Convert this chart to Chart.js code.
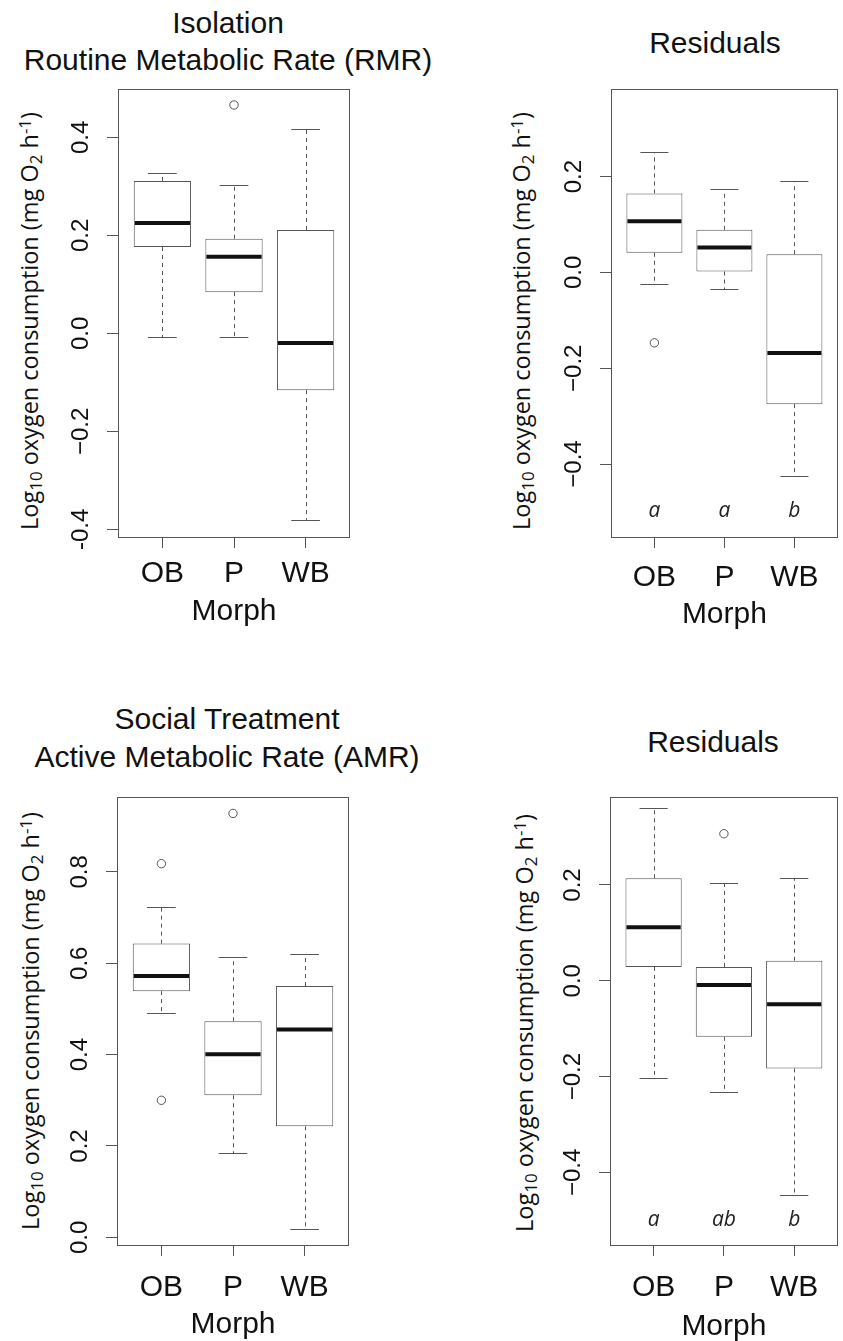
<!DOCTYPE html>
<html><head><meta charset="utf-8">
<script src="https://cdn.jsdelivr.net/npm/chart.js@4.4.1/dist/chart.umd.min.js"></script>
<style>
html,body{margin:0;padding:0;background:#fff}
body{width:843px;height:1341px;position:relative;overflow:hidden;font-family:"Liberation Sans",Arial,sans-serif;color:#111}
canvas{position:absolute}
.t{position:absolute;font-size:30px;line-height:1;white-space:nowrap;transform:translate(-50%,-50%)}
.yl{position:absolute;font-family:"Open Sans",sans-serif;font-size:23.5px;line-height:1;white-space:nowrap;transform:translate(-50%,-50%) rotate(-90deg)}
.yl sub,.yl sup{font-size:0.72em;line-height:0}
.yl sub{vertical-align:-0.25em}
.yl sup{vertical-align:0.45em}
</style></head><body>

<div class="t" style="left:228px;top:23px">Isolation</div>
<div class="t" style="left:228px;top:60px">Routine Metabolic Rate (RMR)</div>
<div class="t" style="left:715px;top:43px">Residuals</div>
<div class="t" style="left:227px;top:719px">Social Treatment</div>
<div class="t" style="left:227px;top:757px">Active Metabolic Rate (AMR)</div>
<div class="t" style="left:713px;top:742px">Residuals</div>

<div class="yl" style="left:30px;top:321px">Log<sub>10</sub> oxygen consumption (mg O<sub>2</sub> h<sup>-1</sup>)</div>
<div class="yl" style="left:522px;top:321px">Log<sub>10</sub> oxygen consumption (mg O<sub>2</sub> h<sup>-1</sup>)</div>
<div class="yl" style="left:31px;top:1021px">Log<sub>10</sub> oxygen consumption (mg O<sub>2</sub> h<sup>-1</sup>)</div>
<div class="yl" style="left:525px;top:1023px">Log<sub>10</sub> oxygen consumption (mg O<sub>2</sub> h<sup>-1</sup>)</div>

<canvas id="c1" width="421" height="700" style="left:0;top:0"></canvas>
<canvas id="c2" width="422" height="700" style="left:421px;top:0"></canvas>
<canvas id="c3" width="421" height="700" style="left:0;top:680px"></canvas>
<canvas id="c4" width="422" height="700" style="left:421px;top:680px"></canvas>

<script>
// ---------- data ----------
const morphs = ['OB', 'P', 'WB'];

// Isolation - Routine Metabolic Rate (RMR)
const rmrMin = [-0.008, -0.008, -0.382];
const rmrQ1  = [0.176, 0.084, -0.116];
const rmrMed = [0.225, 0.156, -0.020];
const rmrQ3  = [0.311, 0.193, 0.211];
const rmrMax = [0.327, 0.303, 0.416];
const rmrOut = [[], [0.466], []];
const rmrTicks = [-0.4, -0.2, 0, 0.2, 0.4];
const rmrTickLabels = ['-0.4', '\u22120.2', '0.0', '0.2', '0.4'];

// Isolation - Residuals
const rmrResMin = [-0.025, -0.034, -0.425];
const rmrResQ1  = [0.041, 0.002, -0.275];
const rmrResMed = [0.107, 0.052, -0.168];
const rmrResQ3  = [0.165, 0.089, 0.038];
const rmrResMax = [0.251, 0.174, 0.190];
const rmrResOut = [[-0.147], [], []];
const rmrResLetters = ['a', 'a', 'b'];
const resTicks = [-0.4, -0.2, 0, 0.2];
const resTickLabels = ['\u22120.4', '\u22120.2', '0.0', '0.2'];

// Social treatment - Active Metabolic Rate (AMR)
const amrMin = [0.492, 0.185, 0.019];
const amrQ1  = [0.539, 0.311, 0.243];
const amrMed = [0.572, 0.401, 0.455];
const amrQ3  = [0.643, 0.473, 0.550];
const amrMax = [0.723, 0.613, 0.621];
const amrOut = [[0.818, 0.300], [0.928], []];
const amrTicks = [0, 0.2, 0.4, 0.6, 0.8];
const amrTickLabels = ['0.0', '0.2', '0.4', '0.6', '0.8'];

// Social treatment - Residuals
const amrResMin = [-0.203, -0.232, -0.448];
const amrResQ1  = [0.029, -0.117, -0.183];
const amrResMed = [0.112, -0.009, -0.049];
const amrResQ3  = [0.214, 0.029, 0.042];
const amrResMax = [0.360, 0.205, 0.214];
const amrResOut = [[], [0.307], []];
const amrResLetters = ['a', 'ab', 'b'];

// ---------- drawing ----------
const FONT = '"Liberation Sans", Arial, sans-serif';
Chart.defaults.font.family = FONT;
Chart.defaults.color = '#111';
const LINE = '#555';

function measure(labels, font) {
  const c = document.createElement('canvas').getContext('2d');
  c.font = font;
  return Math.max(...labels.map(l => c.measureText(l).width));
}

function makePanel(id, s, L) {
  const yPad = 37 - 11 - measure(s.tickLabels, '24px ' + FONT) / 2;
  const extras = {
    id: 'boxExtras_' + id,
    afterDatasetsDraw(chart) {
      const xs = chart.scales.x, ys = chart.scales.y, ctx = chart.ctx, a = chart.chartArea;
      ctx.save();
      ctx.strokeStyle = LINE; ctx.lineWidth = 1;
      const seg = (x1, y1, x2, y2) => { ctx.beginPath(); ctx.moveTo(x1, y1); ctx.lineTo(x2, y2); ctx.stroke(); };
      morphs.forEach((m, i) => {
        const cx = Math.round(xs.getPixelForValue(i + 1)) + 0.5;
        const cl = xs.getPixelForValue(i + 1 - 0.2), cr = xs.getPixelForValue(i + 1 + 0.2);
        const yMax = Math.round(ys.getPixelForValue(s.max[i])) + 0.5;
        const yMin = Math.round(ys.getPixelForValue(s.min[i])) + 0.5;
        ctx.setLineDash([4, 4]);
        seg(cx, ys.getPixelForValue(s.q3[i]), cx, yMax);
        seg(cx, ys.getPixelForValue(s.q1[i]), cx, yMin);
        ctx.setLineDash([]);
        seg(cl, yMax, cr, yMax);
        seg(cl, yMin, cr, yMin);
        ctx.save();
        ctx.lineWidth = 4; ctx.strokeStyle = '#111';
        const ym = ys.getPixelForValue(s.med[i]);
        seg(xs.getPixelForValue(i + 1 - 0.4) + 1, ym, xs.getPixelForValue(i + 1 + 0.4) - 1, ym);
        ctx.restore();
        if (s.letters) {
          ctx.fillStyle = '#222';
          ctx.font = 'italic 21px "Open Sans", sans-serif';
          ctx.textAlign = 'center'; ctx.textBaseline = 'middle';
          ctx.fillText(s.letters[i], xs.getPixelForValue(i + 1), ys.getPixelForValue(s.letterY));
        }
      });
      ctx.strokeRect(Math.round(a.left) + 0.5, Math.round(a.top) + 0.5,
                     Math.round(a.right) - Math.round(a.left) - 1, Math.round(a.bottom) - Math.round(a.top));
      ctx.restore();
    }
  };
  const outPts = [];
  s.out.forEach((arr, i) => arr.forEach(v => outPts.push({ x: i + 1, y: v })));

  return new Chart(document.getElementById(id), {
    type: 'bar',
    data: {
      datasets: [
        {
          type: 'bar',
          data: morphs.map((m, i) => ({ x: i + 1, y: [s.q1[i], s.q3[i]] })),
          backgroundColor: '#fff', borderColor: LINE, borderWidth: 1, borderSkipped: false,
          barPercentage: 0.8, categoryPercentage: 1
        },
        {
          type: 'scatter',
          data: outPts,
          pointStyle: 'circle', pointRadius: 4.2, pointBorderWidth: 1,
          pointBorderColor: LINE, pointBackgroundColor: 'rgba(0,0,0,0)', showLine: false
        }
      ]
    },
    options: {
      responsive: false, animation: false, devicePixelRatio: 1, events: [],
      layout: { padding: { top: L.top, right: L.right, left: 0, bottom: 0 } },
      plugins: { legend: { display: false }, tooltip: { enabled: false }, title: { display: false } },
      scales: {
        x: {
          type: 'linear', min: 0.38, max: 3.62, offset: false,
          afterBuildTicks: sc => { sc.ticks = morphs.map((m, i) => ({ value: i + 1 })); },
          ticks: { callback: v => morphs[v - 1], font: { size: 30 }, padding: L.xPad, autoSkip: false, maxRotation: 0, minRotation: 0, color: '#111' },
          grid: { offset: false, drawOnChartArea: false, tickLength: 11, color: LINE, tickColor: LINE },
          border: { display: false },
          title: { display: true, text: 'Morph', font: { size: 30 }, color: '#111', padding: { top: 0, bottom: L.titlePb } },
          afterFit: sc => { sc.height = L.xH; }
        },
        y: {
          min: s.yMin, max: s.yMax,
          afterBuildTicks: sc => { sc.ticks = s.ticks.map(v => ({ value: v })); },
          ticks: {
            callback: v => s.tickLabels[s.ticks.indexOf(v)],
            font: { size: 24 }, color: '#111', padding: yPad, autoSkip: false,
            minRotation: 90, maxRotation: 90, crossAlign: 'center'
          },
          grid: { drawOnChartArea: false, tickLength: 11, color: LINE, tickColor: LINE },
          border: { display: false },
          afterFit: sc => { sc.width = L.yW; }
        }
      }
    },
    plugins: [extras]
  });
}

makePanel('c1', {
  min: rmrMin, q1: rmrQ1, med: rmrMed, q3: rmrQ3, max: rmrMax, out: rmrOut,
  ticks: rmrTicks, tickLabels: rmrTickLabels, yMin: -0.4157, yMax: 0.4986
}, { top: 89, right: 71, yW: 118, xH: 163, xPad: 8, titlePb: 70 });

makePanel('c2', {
  min: rmrResMin, q1: rmrResQ1, med: rmrResMed, q3: rmrResQ3, max: rmrResMax, out: rmrResOut,
  letters: rmrResLetters, letterY: -0.498,
  ticks: resTicks, tickLabels: resTickLabels, yMin: -0.5524, yMax: 0.383
}, { top: 89, right: 0, yW: 190, xH: 163, xPad: 12, titlePb: 67 });

makePanel('c3', {
  min: amrMin, q1: amrQ1, med: amrMed, q3: amrQ3, max: amrMax, out: amrOut,
  ticks: amrTicks, tickLabels: amrTickLabels, yMin: -0.0168, yMax: 0.964
}, { top: 117, right: 72, yW: 117, xH: 135, xPad: 14, titlePb: 37 });

makePanel('c4', {
  min: amrResMin, q1: amrResQ1, med: amrResMed, q3: amrResQ3, max: amrResMax, out: amrResOut,
  letters: amrResLetters, letterY: -0.4995,
  ticks: resTicks, tickLabels: resTickLabels, yMin: -0.5516, yMax: 0.3837
}, { top: 117, right: 0, yW: 189, xH: 135, xPad: 14, titlePb: 35 });
</script>
</body></html>
